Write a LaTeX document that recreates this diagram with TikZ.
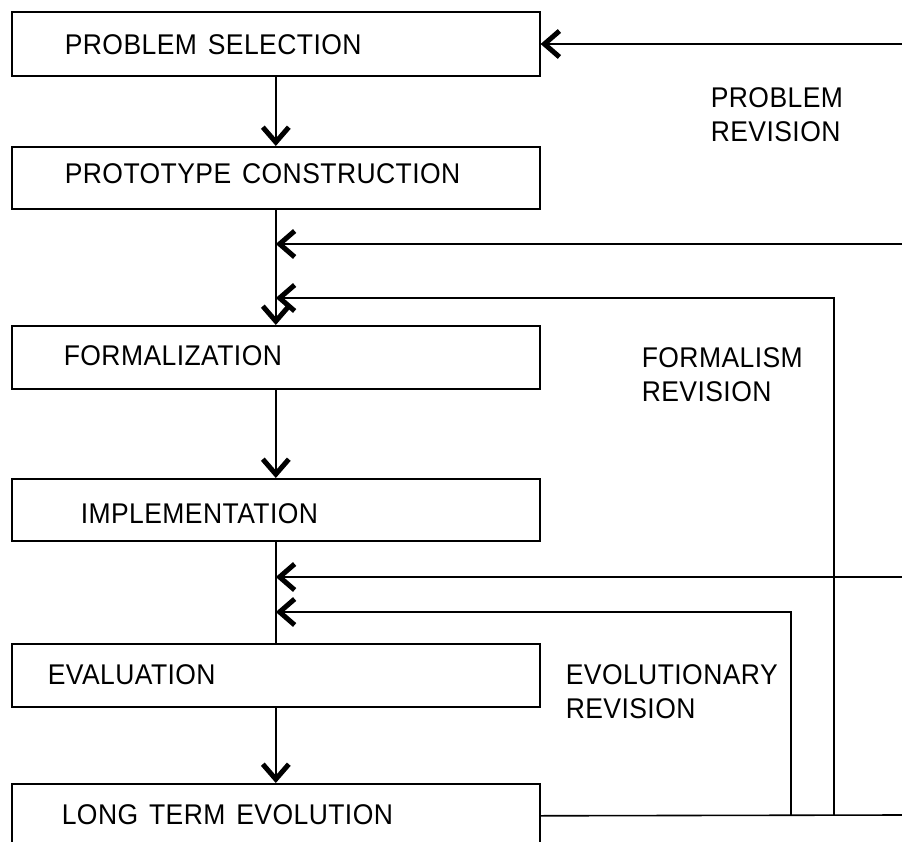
\documentclass[tikz,border=0pt]{standalone}
\usepackage{fontspec}
\setmainfont{Liberation Sans}[FakeStretch=0.93,LetterSpace=1.5,WordSpace=1.4]
\usetikzlibrary{arrows.meta}
\begin{document}
\begin{tikzpicture}[x=1pt,y=-1pt,
  line width=1.6pt,
  >={Straight Barb[length=15pt,width=26pt,line width=5pt]},
  stage/.style={draw, line width=1.6pt, minimum width=528pt, inner sep=0pt,
                anchor=north west},
  lbl/.style={inner sep=0pt, anchor=west, font=\fontsize{28.5}{33}\selectfont},
  note/.style={inner sep=0pt, anchor=north west, align=left,
               font=\fontsize{28.5}{34}\selectfont}
]
\useasboundingbox (0,0) rectangle (902,842);
\clip (0,0) rectangle (902,842);

% stages of the development cycle
\node[stage, minimum height=64pt] (sel)   at (11,11)  {};
\node[stage, minimum height=62pt] (proto) at (11,146) {};
\node[stage, minimum height=63pt] (form)  at (11,325) {};
\node[stage, minimum height=62pt] (impl)  at (11,478) {};
\node[stage, minimum height=63pt] (eval)  at (11,643) {};
\node[stage, minimum height=64pt] (lte)   at (11,783) {};

\node[lbl] (tsel)   at (64,45)  {PROBLEM SELECTION};
\node[lbl] (tproto) at (64,174) {PROTOTYPE CONSTRUCTION};
\node[lbl] (tform)  at (63,356) {FORMALIZATION};
\node[lbl] (timpl)  at (80,514) {IMPLEMENTATION};
\node[lbl] (teval)  at (47,675) {EVALUATION};
\node[lbl] (tlte)   at (61,815) {LONG TERM EVOLUTION};

% revision labels
\node[note] (nprob) at (710,87)  {PROBLEM\\REVISION};
\node[note] (nform) at (641,347) {FORMALISM\\REVISION};
\node[note] (nevol) at (565,664) {EVOLUTIONARY\\REVISION};

% forward flow
\draw[->] (sel) -- (proto);
\draw[->] (proto) -- (form);
\draw[->] (form) -- (impl);
\draw (impl) -- (eval);
\draw[->] (eval) -- (lte);

% feedback paths
\coordinate (rsel)  at (902,44);
\coordinate (rform) at (902,244);
\coordinate (reval) at (902,577);
\coordinate (out)   at (902,815);
\coordinate (cform) at (834,298);
\coordinate (ceval) at (791,612);

\draw[->] (rsel) -- (rsel -| sel.east);
\draw[->] (rform) -- (rform -| proto.south);
\draw[->] (reval) -- (reval -| impl.south);
\draw (lte.east) -- (out);
\draw[->] (lte.east -| cform) -- (cform) -- (cform -| proto.south);
\draw[->] (lte.east -| ceval) -- (ceval) -- (ceval -| impl.south);
\end{tikzpicture}
\end{document}
